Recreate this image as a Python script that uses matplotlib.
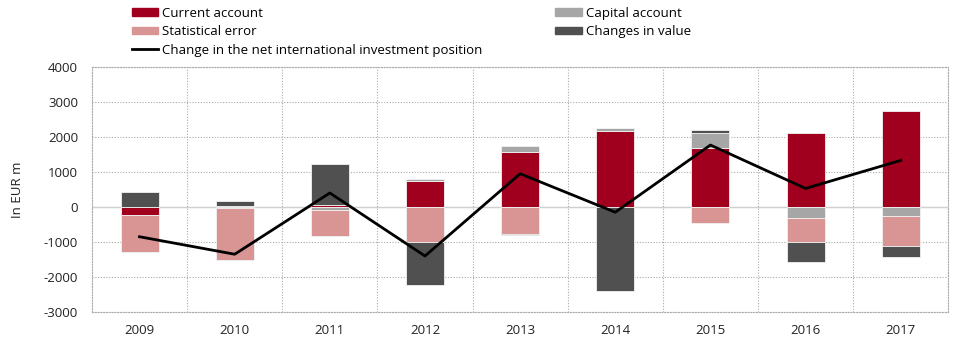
import numpy as np
import matplotlib.pyplot as plt
from matplotlib.lines import Line2D
from matplotlib.patches import Patch

plt.rcParams['font.family'] = ['Open Sans', 'DejaVu Sans']
plt.rcParams['axes.unicode_minus'] = False

years = ['2009', '2010', '2011', '2012', '2013', '2014', '2015', '2016', '2017']

# EUR m
current_account = [-220, -40, 60, 750, 1570, 2160, 1680, 2100, 2750]
capital_account = [0, 20, -80, 40, 160, 90, 420, -320, -250]
statistical_error = [-1070, -1480, -740, -990, -760, 0, -470, -680, -860]
changes_in_value = [440, 140, 1170, -1230, -50, -2400, 100, -580, -320]
niip_change = [-850, -1350, 400, -1400, 950, -150, 1770, 530, 1330]

series = [
    ("Current account", current_account, "#a0001e"),
    ("Capital account", capital_account, "#a6a6a6"),
    ("Statistical error", statistical_error, "#d99594"),
    ("Changes in value", changes_in_value, "#505050"),
]

fig = plt.figure(figsize=(9.6, 3.5), dpi=100)
ax = fig.add_axes([0.0958, 0.1086, 0.892, 0.7])

x = np.arange(len(years))
pos_base = np.zeros(len(years))
neg_base = np.zeros(len(years))
for name, vals, color in series:
    v = np.array(vals, dtype=float)
    bottom = np.where(v >= 0, pos_base, neg_base)
    ax.bar(x, v, width=0.4, bottom=bottom, color=color,
           edgecolor='#f2f2f2', linewidth=0.6, zorder=3)
    pos_base += np.clip(v, 0, None)
    neg_base += np.clip(v, None, 0)

ax.plot(x, niip_change, color='black', linewidth=2, zorder=4)

ax.set_xlim(-0.5, len(years) - 0.5)
ax.set_ylim(-3000, 4000)
ax.set_yticks(np.arange(-3000, 4001, 1000))
ax.set_xticks(x)
ax.set_xticklabels(years)
ax.set_xticks(np.arange(0.5, len(years) - 0.5, 1), minor=True)
ax.tick_params(which='both', length=0, labelsize=9.5, colors='#222222')
ax.tick_params(axis='x', pad=9)
ax.tick_params(axis='y', pad=10)

ax.grid(axis='y', which='major', linestyle=(0, (1, 1.5)), color='#aaaaaa', linewidth=0.8, zorder=0)
ax.grid(axis='x', which='minor', linestyle=(0, (1, 1.5)), color='#aaaaaa', linewidth=0.8, zorder=0)
ax.axhline(0, color='#d0d0d0', linewidth=1, zorder=2)
for s in ax.spines.values():
    s.set_linestyle((0, (1, 1.5)))
    s.set_color('#aaaaaa')
    s.set_linewidth(0.8)

ax.set_ylabel("In EUR m", fontsize=9.5, color='#222222', labelpad=14)

handles = [
    Patch(color=series[0][2], label=series[0][0]),
    Patch(color=series[2][2], label=series[2][0]),
    Line2D([], [], color='black', linewidth=2, label="Change in the net international investment position"),
    Patch(color=series[1][2], label=series[1][0]),
    Patch(color=series[3][2], label=series[3][0]),
]
fig.legend(handles=handles, ncol=2, loc='upper left', bbox_to_anchor=(0.125, 1.015),
           frameon=False, fontsize=9.5, handlelength=2.0, handleheight=0.55,
           handletextpad=0.3, labelspacing=0.42, columnspacing=5.5)

fig.savefig("out.png", dpi=100)
